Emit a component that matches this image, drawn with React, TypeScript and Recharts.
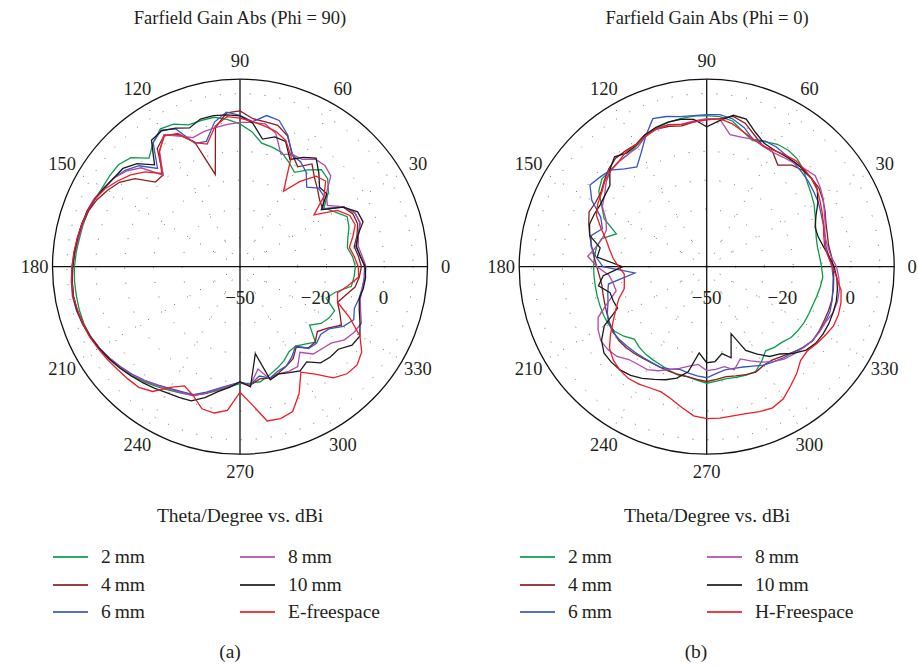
import React from "react";
import {
  RadarChart,
  Radar,
  PolarGrid,
  PolarAngleAxis,
  PolarRadiusAxis,
} from "recharts";

const serif = '"Liberation Serif", "Times New Roman", serif';
const ink = "#231f20";

// theta in degrees, counter-clockwise from the right-hand axis
const theta = [
  0, 5, 10, 15, 20, 25, 30, 35, 40, 45, 50, 55, 60, 65, 70, 75, 80, 85, 90, 95,
  100, 105, 110, 115, 120, 125, 130, 135, 140, 145, 150, 155, 160, 165, 170,
  175, 180, 185, 190, 195, 200, 205, 210, 215, 220, 225, 230, 235, 240, 245,
  250, 255, 260, 265, 270, 275, 280, 285, 290, 295, 300, 305, 310, 315, 320,
  325, 330, 335, 340, 345, 350, 355,
];

// (a) Phi = 90, gain in dBi
const phi90_2mm = [
  -12.2, -11.3, -9.8, -9, -12, -14.5, -10, -7, -6.1, -9, -12.2, -10, -7.8, -7.1,
  -6.5, -3, -0.5, 1.3, 2.6, 2.4, 2.3, 4.5, 5.2, 2.5, -0.9, 3.5, 5, 5.1, 5, 5.5,
  6, 6.3, 6.5, 7, 7.4, 7.6, 7.6, 7.7, 7.6, 7.2, 6.5, 5.6, 4.5, 3.4, 2, 0.6,
  -0.6, -1.6, -2.6, -4.5, -6.5, -8.2, -9.5, -9.5, -9.5, -11, -12.5, -14, -16,
  -16.4, -15, -13, -18.5, -15.7, -14.4, -13.8, -18.2, -15.8, -10.8, -10.3, -10,
  -10.8,
];
const phi90_4mm = [
  -9.8, -8, -6.6, -6.8, -8.7, -15, -14, -12, -9.8, -6.5, -10, -7, -1.8, 0.7, 1,
  1.5, 4, 3.5, -1, -16.9, -4, 0.5, 2.6, 0, -8.5, -8.5, -2.5, 1, 3, 4.8, 6, 6.6,
  7, 7.5, 8, 8.4, 8.6, 8.4, 7.9, 7.2, 6.3, 5.3, 4.2, 3, 1.6, 0.1, -1.1, -2,
  -2.5, -4.6, -7, -8.6, -9.8, -8.8, -10.5, -10, -10.8, -12, -13.2, -16, -13.2,
  -13.1, -15, -12.9, -9.4, -11.8, -14, -12, -9.5, -8.5, -7.9, -8.8,
];
const phi90_6mm = [
  -9.3, -7.5, -5.8, -6, -8.5, -15, -12, -11.5, -14, -10, -8, -7.3, -1.5, 2.5,
  3.2, 0.5, 2.5, 3.8, 0.9, -5, -4.5, 2.7, 4.7, 2.5, -5.5, -0.5, 2, 3.5, 4.3,
  5.5, 6.3, 6.8, 7.2, 7.7, 8.3, 8.7, 9, 8.7, 8.1, 7.3, 6.3, 5.2, 4, 2.8, 1.4,
  0, -1.3, -2.2, -2.8, -5, -7.2, -8.8, -10, -9, -11.5, -10, -11.5, -12, -14,
  -16.4, -13, -12.5, -13.5, -12.4, -8.6, -6.5, -7.8, -7.3, -7, -6.8, -6.8, -8,
];
const phi90_8mm = [
  -8.4, -7.5, -5.6, -6, -8.5, -13, -11, -5.5, -4.2, -4.5, -7, -7, -8.5, -2.1,
  0.3, 0.2, 0, -0.5, -1, -1.5, -2.4, 0, 2.8, -1.4, -8.6, -1.5, 1.5, 3.5, 4.5,
  5.8, 6.5, 6.5, 6.8, 7.4, 8.2, 8.5, 8.8, 8.5, 8, 7.3, 6.4, 5.3, 4.2, 3, 1.6,
  0.2, -1, -1.8, -2.4, -4.5, -6.8, -8.5, -9.8, -8.7, -14, -9.5, -10.5, -10,
  -10, -13.8, -10.5, -9.8, -8.8, -5.8, -4.4, -3.6, -5.5, -6.8, -7, -6.5, -6.3,
  -7.5,
];
const phi90_10mm = [
  -9, -7.7, -4.6, -5, -8.7, -15.6, -10.7, -11, -7.5, -4, -6.2, -9, -3.8, -3.4,
  -5.1, 0, 2.3, 2.8, 3.2, 3, 1.2, 3, 4.4, 3.5, -3.9, 0.5, 3, 3.5, 4.5, 5.5,
  6.3, 6.8, 7.2, 7.6, 8, 8.4, 8.7, 8.5, 8, 7.3, 6.5, 5.5, 4.5, 3.5, 2.5, 1.5,
  0.5, 0, -0.5, -3, -6, -8, -10.1, -8.2, -19.4, -9.4, -10.5, -9.5, -8.3, -9.7,
  -6.5, -5.7, -5.5, -2.6, -2, -4.1, -6, -7.2, -6.6, -6.3, -6.6, -8.2,
];
const phi90_free = [
  -11.5, -9.5, -7.5, -8, -11, -18.7, -12, -8, -9, -14, -19.8, -8, -3.5, -1.5,
  -0.5, 0.5, 1.5, 2.2, -0.5, -6, -4.2, 1, 2.4, -1.2, -7.8, -3.5, -0.5, 1.8, 4,
  5.5, 6.2, 6.8, 7.3, 7.8, 8.2, 8.5, 8.7, 8.3, 8, 7.5, 6.8, 6.1, 5.4, 5, 4.6,
  2.8, -1.7, -4.4, -2.5, 1, 1.5, 0, -6.5, -2, 4.3, 4.5, 3.4, -1.5, -7.8, -4.5,
  0.3, 2.5, 3, 1.5, -2, -8, -14, -15, -12, -8.7, -9, -10.2,
];

// (b) Phi = 0, gain in dBi
const phi0_2mm = [
  -11, -10.7, -9.8, -8.5, -7, -5.8, -4.5, -2.5, -1.2, -0.7, -1, -2.2, -3.5,
  -1.5, 1.3, 2.2, 2.4, 2.4, 2.1, 1.8, 1, -0.2, -1.5, -2.5, -2.5, -2.8, -2.6,
  -4.3, -8, -10.8, -16.7, -12.3, -11.2, -10.9, -10.8, -10.8, -10.8, -10.7,
  -10.6, -10.5, -10.5, -11, -12.5, -14.5, -13.6, -13, -12.7, -12.4, -11.8,
  -11.2, -11.3, -10.5, -9.6, -10.2, -10.6, -10.3, -10, -9.9, -12, -14.4, -13.5,
  -13, -11.8, -11.4, -11.1, -11, -10.9, -10.5, -10, -9.6, -10.2, -10.7,
];
const phi0_4mm = [
  -7.1, -6.7, -6, -4.7, -3.5, -2.5, -2.5, -2.8, -4, -7, -4.2, -3.8, -1.5, 1.5,
  2.9, 1.5, 1, 0.4, -0.4, 0.4, 0.8, 0.6, -1, -0.9, -0.9, -2, -3.6, -5.2, -5.5,
  -5, -6.5, -8, -9.5, -10.8, -11.9, -12.7, -13.1, -12.8, -12.4, -11.8, -11.1,
  -10.6, -10.2, -10.4, -10.8, -11.3, -11.6, -11.6, -11.5, -11.4, -11.3, -10.8,
  -10.2, -10.8, -11.3, -10.8, -10.2, -9.7, -10.5, -10.5, -9.4, -8, -6.3, -5.2,
  -5.1, -5.2, -5.1, -5.1, -5.4, -5.8, -6.2, -6.6,
];
const phi0_6mm = [
  -8.1, -7.5, -7, -6.3, -5.3, -4.7, -4, -3.5, -3, -2.5, -2, -2, -3, 0, 2, 2.9,
  2.7, 2.6, 2.8, 3.9, 4.6, 0, -4.5, -7.8, -5.7, -2.7, -1.7, -0.6, -4, -9.5,
  -11.5, -8.5, -9.3, -11.5, -14, -25, -15.4, -14.5, -13.6, -12, -10.8, -10.3,
  -10.6, -11, -11.3, -11.6, -11.7, -11.6, -12.3, -13.2, -12.6, -12, -11.5,
  -12.8, -13.7, -13.5, -13, -12, -10.6, -9.7, -8.7, -7.8, -6.5, -5.3, -5, -4.7,
  -4.5, -5, -5.6, -6, -6.6, -7.5,
];
const phi0_8mm = [
  -7.5, -7.7, -6.3, -5, -3.3, -2, -0.9, -2, -3, -3.7, -4.2, -3.6, -3, -3.5,
  -3.5, 1.4, 1.3, 0.7, 0.2, 1, 0.7, 0, -2.2, -2.4, -2.5, -2.8, -4.5, -6.8,
  -8.2, -11.5, -13, -12.5, -11, -8.6, -12, -16, -17.1, -17.5, -13.5, -8.5,
  -6.5, -5.2, -5.3, -6, -8, -8.6, -8.8, -10.2, -12, -13.5, -15, -16, -14,
  -14.3, -14.8, -13, -16, -14, -11.8, -9.8, -8.2, -7.2, -6.3, -5.2, -4.8, -4.5,
  -3.4, -3.1, -3.3, -4, -5, -6.8,
];
const phi0_10mm = [
  -9, -10, -10, -8.2, -5.5, -3.2, -2.5, -2.5, -2.6, -3, -3.3, -2.8, -0.5, 3,
  3.3, 0.8, -1.5, 1.3, 1.9, 1.9, 1.4, 0.5, -1.2, -1.8, -0.3, -2.5, -6.2, -6.9,
  -7.3, -7, -6.8, -8, -12.5, -11.9, -20.8, -14, -11.9, -15.3, -15.5, -15.9, -9,
  -5.5, -3.5, -3.2, -3.3, -4, -5.3, -6.9, -8.3, -10, -13, -20, -16.7, -17,
  -19.4, -17.3, -25.3, -18, -15, -12, -10.5, -7.5, -5, -3.8, -3.4, -3.3, -3.4,
  -3.5, -4, -4.7, -5.8, -7.5,
];
const phi0_free = [
  -8.5, -8, -6.9, -5.8, -4.6, -3.3, -2.5, -2.2, -2, -2.7, -3.4, -3.9, -2.9,
  -1.5, 0.4, 1.5, 0.9, 0.4, 0, 1, 0.9, 0.1, -1.1, -1.3, -2.5, -2.9, -3.9, -5.5,
  -6.4, -7.8, -11, -13.9, -15.8, -17.5, -19.4, -21.3, -21, -20.4, -17.6, -15.3,
  -12.6, -9.3, -6, -4.2, -3.2, -2.7, -3, -3.6, -3.8, -2.5, -0.4, 1.9, 2.7, 2.7,
  2.5, 2.7, 3.5, 4, 3, 0.6, -1.5, -4, -4.5, -3.5, -2.5, -1.5, -1.4, -1.8, -2.7,
  -4.7, -6.4, -7.8,
];

const seriesColors = [
  "#0c9a4a",
  "#8b1d1d",
  "#3557c2",
  "#b24aa9",
  "#1a1a1a",
  "#ee1c25",
];

const rMin = -50;
const rMax = 15;
const outer = 187.5;
const ringLevels = [-40, -30, -20, -10, 0, 10];
const radialAngles = [30, 60, 120, 150, 210, 240, 300, 330];

function buildRows(cols: number[][]) {
  return theta.map((t, i) => {
    const row: Record<string, number> = { theta: t };
    cols.forEach((c, k) => {
      row[`s${k}`] = c[i];
    });
    return row;
  });
}

const rowsA = buildRows([
  phi90_2mm,
  phi90_4mm,
  phi90_6mm,
  phi90_8mm,
  phi90_10mm,
  phi90_free,
]);
const rowsB = buildRows([
  phi0_2mm,
  phi0_4mm,
  phi0_6mm,
  phi0_8mm,
  phi0_10mm,
  phi0_free,
]);

const ringRadius = (v: number) => ((v - rMin) / (rMax - rMin)) * outer;

function AngleTick(props: any) {
  const { x, y, payload } = props;
  if (payload.value % 30 !== 0) return <g />;
  return (
    <text
      x={x}
      y={y}
      textAnchor="middle"
      dominantBaseline="central"
      fontFamily={serif}
      fontSize={18.5}
      fill={ink}
    >
      {payload.value}
    </text>
  );
}

function RadiusTick(props: any) {
  const { x, y, payload } = props;
  const v = payload.value;
  const label = v < 0 ? `\u2212${Math.abs(v)}` : `${v}`;
  return (
    <text
      x={v === rMin ? x : x + 4}
      y={y + 31}
      textAnchor={v === rMin ? "middle" : "end"}
      dominantBaseline="central"
      fontFamily={serif}
      fontSize={19}
      fill={ink}
    >
      {label}
    </text>
  );
}

function PolarPanel({
  rows,
  left,
  cx,
  cy,
}: {
  rows: Record<string, number>[];
  left: number;
  cx: number;
  cy: number;
}) {
  return (
    <div style={{ position: "absolute", left, top: 0 }}>
      <RadarChart
        width={460}
        height={500}
        cx={cx}
        cy={cy}
        outerRadius={outer}
        startAngle={5}
        endAngle={365}
        data={rows}
        margin={{ top: 0, right: 0, bottom: 0, left: 0 }}
      >
        <PolarGrid
          gridType="circle"
          polarRadius={ringLevels.map(ringRadius)}
          polarAngles={radialAngles}
          stroke="#666"
          strokeDasharray="1 14"
        />
        <PolarGrid
          gridType="circle"
          polarRadius={[outer]}
          polarAngles={[0, 90, 180, 270]}
          stroke="#111"
          strokeWidth={1.3}
        />
        <PolarAngleAxis
          dataKey="theta"
          tick={AngleTick}
          tickLine={false}
          axisLine={false}
          tickSize={18}
        />
        <PolarRadiusAxis
          angle={0}
          type="number"
          domain={[rMin, rMax]}
          ticks={[-50, -20, 0]}
          tick={RadiusTick}
          axisLine={false}
          tickLine={false}
        />
        {seriesColors.map((c, k) => (
          <Radar
            key={k}
            dataKey={`s${k}`}
            stroke={c}
            strokeWidth={1.3}
            fill="none"
            fillOpacity={0}
            dot={false}
            isAnimationActive={false}
          />
        ))}
      </RadarChart>
    </div>
  );
}

function LegendItem({
  x,
  y,
  color,
  label,
}: {
  x: number;
  y: number;
  color: string;
  label: string;
}) {
  return (
    <div
      style={{
        position: "absolute",
        left: x,
        top: y - 13,
        height: 26,
        display: "flex",
        alignItems: "center",
        whiteSpace: "nowrap",
      }}
    >
      <span
        style={{
          display: "inline-block",
          width: 35,
          height: 2,
          background: color,
          opacity: 0.85,
        }}
      />
      <span
        style={{ marginLeft: 13, fontSize: 19.5, fontFamily: serif, color: ink }}
      >
        {label}
      </span>
    </div>
  );
}

function Caption({
  x,
  y,
  text,
  size,
}: {
  x: number;
  y: number;
  text: string;
  size: number;
}) {
  return (
    <div
      style={{
        position: "absolute",
        left: x - 200,
        top: y - 14,
        width: 400,
        height: 28,
        lineHeight: "28px",
        textAlign: "center",
        fontFamily: serif,
        fontSize: size,
        color: ink,
        whiteSpace: "nowrap",
      }}
    >
      {text}
    </div>
  );
}

const legendA = ["2\u2009mm", "4\u2009mm", "6\u2009mm", "8\u2009mm", "10\u2009mm", "E-freespace"];
const legendB = ["2\u2009mm", "4\u2009mm", "6\u2009mm", "8\u2009mm", "10\u2009mm", "H-Freespace"];
const legendRows = [557, 585, 612];

export default function App() {
  return (
    <div
      style={{
        position: "absolute",
        left: 0,
        top: 0,
        width: 918,
        height: 667,
        background: "#fff",
        overflow: "hidden",
      }}
    >
      <Caption x={240} y={18} text="Farfield Gain Abs (Phi = 90)" size={18.5} />
      <Caption x={707} y={18} text="Farfield Gain Abs (Phi = 0)" size={18.5} />

      <PolarPanel rows={rowsA} left={0} cx={240} cy={266.7} />
      <PolarPanel rows={rowsB} left={459} cx={247.7} cy={266.7} />

      <Caption x={240} y={516} text="Theta/Degree vs. dBi" size={19.5} />
      <Caption x={707} y={516} text="Theta/Degree vs. dBi" size={19.5} />

      {legendA.map((l, i) => (
        <LegendItem
          key={`a${i}`}
          x={i < 3 ? 53 : 240}
          y={legendRows[i % 3]}
          color={seriesColors[i]}
          label={l}
        />
      ))}
      {legendB.map((l, i) => (
        <LegendItem
          key={`b${i}`}
          x={i < 3 ? 520 : 707}
          y={legendRows[i % 3]}
          color={seriesColors[i]}
          label={l}
        />
      ))}

      <Caption x={230} y={652} text="(a)" size={19.5} />
      <Caption x={696} y={652} text="(b)" size={19.5} />
    </div>
  );
}
